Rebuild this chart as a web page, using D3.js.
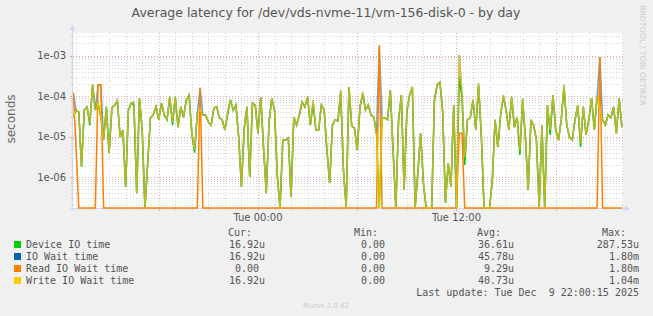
<!DOCTYPE html>
<html>
<head>
<meta charset="utf-8">
<script src="https://cdn.jsdelivr.net/npm/d3@7"></script>
<style>
body { margin: 0; background: #f0f0f0; }
svg { display: block; font-family: "DejaVu Sans", sans-serif; }
.mono { font-family: "DejaVu Sans Mono", monospace; font-size: 10px; fill: #555; white-space: pre; }
</style>
</head>
<body>
<div id="chart"></div>
<script>
// samples every 10 minutes, Mon 8 Dec 12:50 -> Tue 9 Dec 22:00
var startTime = new Date(2025, 11, 8, 12, 50);
var stepMinutes = 10;

var deviceIO = [
  3.0e-5, 4.5e-5, 4.0e-5, 1.8e-6, 4.5e-5, 5.4e-5, 1.9e-5, 1.9e-4, 4.5e-5, 6.7e-5,
  3.0e-5, 8.2e-6, 5.4e-5, 3.9e-6, 5.1e-5, 6.0e-5, 7.0e-5, 9.7e-6, 1.45e-5, 5.7e-7,
  4.5e-5, 6.7e-5, 6.0e-5, 4.0e-7, 8.9e-5, 1.45e-5, 0, 2.2e-6, 2.9e-5, 3.4e-5,
  5.4e-5, 2.6e-5, 6.7e-5, 3.4e-5, 2.6e-5, 9.5e-5, 1.9e-5, 9.5e-5, 1.7e-5, 5.4e-5,
  3.0e-5, 8.0e-5, 1.06e-4, 1.2e-5, 4.0e-6, 3.8e-5, 4.5e-5, 3.4e-5, 3.4e-5, 2.3e-5,
  1.9e-5, 5.1e-5, 5.4e-5, 2.9e-5, 2.6e-5, 1.45e-5, 3.5e-5, 8.0e-5, 4.5e-5, 6.0e-5,
  9.7e-6, 5.7e-7, 1.6e-5, 5.4e-5, 1.0e-6, 6.7e-5, 6.0e-5, 1.2e-5, 9.5e-5, 5.5e-6,
  4.0e-7, 2.2e-5, 8.9e-5, 4.5e-5, 1.1e-6, 0, 8.2e-6, 8.2e-6, 9.2e-6, 3.2e-7,
  3.0e-5, 1.9e-5, 3.4e-5, 7.1e-5, 5.4e-5, 9.5e-5, 1.9e-5, 6.5e-5, 1.45e-5, 1.45e-5,
  6.0e-5, 4.5e-5, 4.6e-6, 7.1e-7, 1.9e-5, 2.6e-5, 2.4e-5, 1.2e-4, 1.5e-6, 0,
  1.67e-4, 1.8e-5, 1.6e-5, 4.6e-6, 5.4e-5, 1.1e-4, 4.5e-5, 6.0e-5, 3.4e-5, 3.0e-5,
  1.2e-5, 0, 2.9e-5, 2.9e-5, 2.6e-5, 1.4e-4, 4.6e-6, 0, 2.6e-5, 1.06e-4,
  4.8e-7, 4.0e-5, 1.06e-4, 1.67e-4, 0, 1.3e-6, 1.2e-5, 7.1e-7, 0, 0,
  0, 8.0e-5, 1.9e-4, 2.2e-4, 4.0e-5, 2.3e-7, 2.2e-6, 5.7e-7, 6.0e-5, 0,
  2.9e-4, 9.0e-5, 2.0e-6, 2.6e-5, 2.9e-5, 8.0e-5, 1.45e-5, 1.8e-4, 1.1e-5, 0,
  0, 0, 8.4e-7, 2.6e-5, 5.5e-6, 3.4e-5, 9.5e-5, 4.5e-5, 1.45e-5, 9.5e-5,
  1.7e-5, 3.0e-5, 3.5e-6, 8.0e-5, 9.2e-6, 4.8e-7, 2.6e-5, 1.9e-5, 8.2e-6, 0,
  1.9e-5, 0, 6.0e-5, 1.1e-5, 1.06e-4, 1.45e-5, 8.2e-6, 2.6e-5, 1.7e-4, 1.9e-5,
  9.7e-6, 8.2e-6, 2.6e-5, 6.0e-5, 5.5e-6, 5.4e-5, 1.1e-5, 2.6e-5, 8.9e-5, 1.45e-5,
  9.5e-5, 5.4e-5, 2.6e-5, 1.9e-5, 3.4e-5, 2.9e-5, 5.4e-5, 1.2e-5, 8.9e-5, 1.692e-5
];

var ioWait = [
  1.2e-4, 4.5e-5, 4.0e-5, 1.8e-6, 4.5e-5, 5.4e-5, 2.2e-5, 1.9e-4, 4.5e-5, 1.9e-4,
  1.9e-4, 8.2e-6, 5.4e-5, 3.9e-6, 5.1e-5, 6.0e-5, 8.0e-5, 9.7e-6, 1.45e-5, 5.7e-7,
  4.5e-5, 6.7e-5, 7.1e-5, 4.0e-7, 8.9e-5, 1.45e-5, 0, 2.2e-6, 2.9e-5, 3.4e-5,
  5.4e-5, 2.6e-5, 6.7e-5, 3.4e-5, 2.6e-5, 9.5e-5, 2.2e-5, 9.5e-5, 1.7e-5, 5.4e-5,
  3.0e-5, 8.0e-5, 1.06e-4, 1.2e-5, 4.6e-6, 3.8e-5, 1.6e-4, 3.4e-5, 3.4e-5, 2.3e-5,
  1.9e-5, 5.1e-5, 5.4e-5, 2.9e-5, 2.6e-5, 1.45e-5, 4.0e-5, 8.0e-5, 4.5e-5, 6.0e-5,
  9.7e-6, 5.7e-7, 1.6e-5, 5.4e-5, 1.0e-6, 6.7e-5, 6.0e-5, 1.2e-5, 9.5e-5, 5.5e-6,
  4.0e-7, 2.2e-5, 8.9e-5, 4.5e-5, 1.1e-6, 0, 8.2e-6, 8.2e-6, 9.2e-6, 3.2e-7,
  3.0e-5, 1.9e-5, 3.4e-5, 7.1e-5, 5.4e-5, 9.5e-5, 1.9e-5, 8.0e-5, 1.45e-5, 1.45e-5,
  6.0e-5, 4.5e-5, 4.6e-6, 7.1e-7, 1.9e-5, 2.6e-5, 2.4e-5, 1.4e-4, 1.5e-6, 0,
  1.67e-4, 1.8e-5, 1.6e-5, 4.6e-6, 5.4e-5, 1.26e-4, 4.5e-5, 6.0e-5, 3.4e-5, 3.0e-5,
  1.2e-5, 1.8e-3, 2.9e-5, 2.9e-5, 2.6e-5, 1.4e-4, 4.6e-6, 0, 2.6e-5, 1.06e-4,
  4.8e-7, 4.5e-5, 1.06e-4, 1.67e-4, 0, 1.3e-6, 1.2e-5, 7.1e-7, 0, 0,
  0, 8.0e-5, 1.9e-4, 2.2e-4, 4.0e-5, 2.3e-7, 2.2e-6, 5.7e-7, 6.0e-5, 0,
  1.04e-3, 1.2e-4, 3.1e-6, 2.6e-5, 2.9e-5, 8.0e-5, 1.45e-5, 2.1e-4, 1.1e-5, 0,
  0, 0, 8.4e-7, 2.6e-5, 5.5e-6, 3.4e-5, 1.06e-4, 4.5e-5, 1.45e-5, 9.5e-5,
  1.7e-5, 3.0e-5, 4.6e-6, 8.9e-5, 9.2e-6, 4.8e-7, 2.6e-5, 1.9e-5, 8.2e-6, 0,
  1.9e-5, 0, 6.0e-5, 1.45e-5, 1.06e-4, 1.45e-5, 8.2e-6, 2.6e-5, 1.9e-4, 1.9e-5,
  9.7e-6, 8.2e-6, 2.6e-5, 6.0e-5, 6.9e-6, 5.4e-5, 1.1e-5, 2.6e-5, 8.9e-5, 1.45e-5,
  9.5e-5, 9.2e-4, 2.6e-5, 1.9e-5, 3.4e-5, 2.9e-5, 5.4e-5, 1.2e-5, 8.9e-5, 1.692e-5
];

var readWait = [
  1.2e-4, 5.5e-6, 0, 0, 0, 0, 0, 0, 0, 1.9e-4,
  1.9e-4, 0, 0, 0, 0, 0, 0, 0, 0, 0,
  0, 0, 0, 0, 0, 0, 0, 0, 0, 0,
  0, 0, 0, 0, 0, 0, 0, 0, 0, 0,
  0, 0, 0, 0, 0, 0, 1.6e-4, 0, 0, 0,
  0, 0, 0, 0, 0, 0, 0, 0, 0, 0,
  0, 0, 0, 0, 0, 0, 0, 0, 0, 0,
  0, 0, 0, 0, 0, 0, 0, 0, 0, 0,
  0, 0, 0, 0, 0, 0, 0, 0, 0, 0,
  0, 0, 0, 0, 0, 0, 0, 0, 0, 0,
  0, 0, 0, 0, 0, 0, 0, 0, 0, 0,
  0, 1.8e-3, 0, 0, 0, 0, 0, 0, 0, 0,
  0, 0, 0, 0, 0, 0, 0, 0, 0, 0,
  0, 0, 0, 0, 0, 0, 0, 0, 0, 0,
  1.2e-5, 1.2e-5, 0, 0, 0, 0, 0, 0, 0, 0,
  0, 0, 0, 0, 0, 0, 0, 0, 0, 0,
  0, 0, 0, 0, 0, 0, 0, 0, 0, 0,
  0, 0, 0, 0, 0, 0, 0, 0, 0, 0,
  0, 0, 0, 0, 0, 0, 0, 0, 0, 0,
  0, 9.2e-4, 0, 0, 0, 0, 0, 0, 0, 0
];

var writeWait = [
  3.0e-5, 4.5e-5, 4.0e-5, 1.8e-6, 4.5e-5, 5.4e-5, 2.2e-5, 1.9e-4, 4.5e-5, 6.7e-5,
  3.0e-5, 8.2e-6, 5.4e-5, 3.9e-6, 5.1e-5, 6.0e-5, 8.0e-5, 9.7e-6, 1.45e-5, 5.7e-7,
  4.5e-5, 6.7e-5, 7.1e-5, 4.0e-7, 8.9e-5, 1.45e-5, 0, 2.2e-6, 2.9e-5, 3.4e-5,
  5.4e-5, 2.6e-5, 6.7e-5, 3.4e-5, 2.6e-5, 9.5e-5, 2.2e-5, 9.5e-5, 1.7e-5, 5.4e-5,
  3.0e-5, 8.0e-5, 1.06e-4, 1.2e-5, 4.6e-6, 3.8e-5, 4.5e-5, 3.4e-5, 3.4e-5, 2.3e-5,
  1.9e-5, 5.1e-5, 5.4e-5, 2.9e-5, 2.6e-5, 1.45e-5, 4.0e-5, 8.0e-5, 4.5e-5, 6.0e-5,
  9.7e-6, 5.7e-7, 1.6e-5, 5.4e-5, 1.0e-6, 6.7e-5, 6.0e-5, 1.2e-5, 9.5e-5, 5.5e-6,
  4.0e-7, 2.2e-5, 8.9e-5, 4.5e-5, 1.1e-6, 0, 8.2e-6, 8.2e-6, 9.2e-6, 3.2e-7,
  3.0e-5, 1.9e-5, 3.4e-5, 7.1e-5, 5.4e-5, 9.5e-5, 1.9e-5, 8.0e-5, 1.45e-5, 1.45e-5,
  6.0e-5, 4.5e-5, 4.6e-6, 7.1e-7, 1.9e-5, 2.6e-5, 2.4e-5, 1.4e-4, 1.5e-6, 0,
  1.67e-4, 1.8e-5, 1.6e-5, 4.6e-6, 5.4e-5, 1.26e-4, 4.5e-5, 6.0e-5, 3.4e-5, 3.0e-5,
  1.2e-5, 0, 2.9e-5, 2.9e-5, 2.6e-5, 1.4e-4, 4.6e-6, 0, 2.6e-5, 1.06e-4,
  4.8e-7, 4.5e-5, 1.06e-4, 1.67e-4, 0, 1.3e-6, 1.2e-5, 7.1e-7, 0, 0,
  0, 8.0e-5, 1.9e-4, 2.2e-4, 4.0e-5, 2.3e-7, 2.2e-6, 5.7e-7, 6.0e-5, 0,
  1.04e-3, 1.2e-4, 3.1e-6, 2.6e-5, 2.9e-5, 8.0e-5, 1.45e-5, 2.1e-4, 1.1e-5, 0,
  0, 0, 8.4e-7, 2.6e-5, 5.5e-6, 3.4e-5, 1.06e-4, 4.5e-5, 1.45e-5, 9.5e-5,
  1.7e-5, 3.0e-5, 4.6e-6, 8.9e-5, 9.2e-6, 4.8e-7, 2.6e-5, 1.9e-5, 8.2e-6, 0,
  1.9e-5, 0, 6.0e-5, 1.45e-5, 1.06e-4, 1.45e-5, 8.2e-6, 2.6e-5, 1.9e-4, 1.9e-5,
  9.7e-6, 8.2e-6, 2.6e-5, 6.0e-5, 6.9e-6, 5.4e-5, 1.1e-5, 2.6e-5, 8.9e-5, 1.45e-5,
  9.5e-5, 5.4e-5, 2.6e-5, 1.9e-5, 3.4e-5, 2.9e-5, 5.4e-5, 1.2e-5, 8.9e-5, 1.692e-5
];

var seriesNames = ["Device IO time", "IO Wait time", "Read IO Wait time", "Write IO Wait time"];
var seriesColors = ["#00cc00", "#0066b3", "#ff8000", "#ffcc00"];
var curValues = ["16.92u", "16.92u", "0.00", "16.92u"];
var minValues = ["0.00", "0.00", "0.00", "0.00"];
var avgValues = ["36.61u", "45.78u", "9.29u", "40.73u"];
var maxValues = ["287.53u", "1.80m", "1.80m", "1.04m"];
var yTickValues = [1e-3, 1e-4, 1e-5, 1e-6];
var xLabelTimes = [new Date(2025, 11, 9, 0, 0), new Date(2025, 11, 9, 12, 0)];

var width = 653,
    height = 316;
var plot = { left: 73, right: 623, top: 33, bottom: 208 };

var svg = d3.select("#chart").append("svg")
    .attr("width", width)
    .attr("height", height);

svg.append("rect").attr("width", width).attr("height", height).attr("fill", "#f0f0f0");
svg.append("rect")
    .attr("x", plot.left).attr("y", plot.top)
    .attr("width", plot.right - plot.left).attr("height", plot.bottom - plot.top)
    .attr("fill", "#ffffff");

var x = d3.scaleTime()
    .domain([new Date(2025, 11, 8, 12, 49), new Date(2025, 11, 9, 22, 4)])
    .range([plot.left, plot.right]);

var y = d3.scaleLog()
    .domain([1.72e-7, 3.6e-3])
    .range([plot.bottom, plot.top]);

function yPos(v) {
  if (v <= y.domain()[0]) return plot.bottom;
  return y(v);
}

// grid: horizontal (log decades + minors)
var yGrid = [];
for (var d = -7; d <= -3; d++) {
  for (var m = 1; m <= 9; m++) {
    var v = m * Math.pow(10, d);
    if (v > y.domain()[0] && v < y.domain()[1]) yGrid.push({ v: v, major: m == 1 });
  }
}

var hours = d3.timeHour.range(new Date(2025, 11, 8, 13, 0), x.domain()[1]);

var grid = svg.append("g");
grid.selectAll("line.hgrid")
    .data(yGrid)
    .enter().append("line")
    .attr("x1", plot.left).attr("x2", plot.right)
    .attr("y1", function(d) { return Math.round(y(d.v)) + 0.5; })
    .attr("y2", function(d) { return Math.round(y(d.v)) + 0.5; })
    .attr("stroke", function(d) { return d.major ? "#e8a8a8" : "#d4d4d4"; })
    .attr("stroke-dasharray", "1,2");

grid.selectAll("line.vgrid")
    .data(hours)
    .enter().append("line")
    .attr("x1", function(d) { return Math.round(x(d)) + 0.5; })
    .attr("x2", function(d) { return Math.round(x(d)) + 0.5; })
    .attr("y1", plot.top).attr("y2", plot.bottom)
    .attr("stroke", function(d) { return d.getHours() % 6 == 0 ? "#e8a8a8" : "#d4d4d4"; })
    .attr("stroke-dasharray", "1,2");

// axis ticks
grid.selectAll("line.ytick")
    .data(yGrid)
    .enter().append("line")
    .attr("x1", function(d) { return d.major ? plot.left - 3 : plot.left - 2; })
    .attr("x2", plot.left)
    .attr("y1", function(d) { return Math.round(y(d.v)) + 0.5; })
    .attr("y2", function(d) { return Math.round(y(d.v)) + 0.5; })
    .attr("stroke", function(d) { return d.major ? "#e8a8a8" : "#cccccc"; });

grid.selectAll("line.xtick")
    .data(hours)
    .enter().append("line")
    .attr("x1", function(d) { return Math.round(x(d)) + 0.5; })
    .attr("x2", function(d) { return Math.round(x(d)) + 0.5; })
    .attr("y1", plot.bottom)
    .attr("y2", function(d) { return d.getHours() % 6 == 0 ? plot.bottom + 3 : plot.bottom + 2; })
    .attr("stroke", function(d) { return d.getHours() % 6 == 0 ? "#e8a8a8" : "#cccccc"; });

// axes lines and arrows
svg.append("line")
    .attr("x1", plot.left - 0.5).attr("x2", plot.left - 0.5)
    .attr("y1", plot.top - 4).attr("y2", plot.bottom + 3)
    .attr("stroke", "#cfd6f8");
svg.append("line")
    .attr("x1", plot.left - 3).attr("x2", plot.right + 4)
    .attr("y1", plot.bottom + 0.5).attr("y2", plot.bottom + 0.5)
    .attr("stroke", "#cfd6f8");
svg.append("path")
    .attr("d", "M" + (plot.left - 3.5) + "," + (plot.top - 3) + "L" + (plot.left - 0.5) + "," + (plot.top - 8) + "L" + (plot.left + 2.5) + "," + (plot.top - 3) + "Z")
    .attr("fill", "#cfd6f8");
svg.append("path")
    .attr("d", "M" + (plot.right + 2) + "," + (plot.bottom - 2.5) + "L" + (plot.right + 7) + "," + (plot.bottom + 0.5) + "L" + (plot.right + 2) + "," + (plot.bottom + 3.5) + "Z")
    .attr("fill", "#cfd6f8");

// series
var times = deviceIO.map(function(v, i) { return new Date(startTime.getTime() + i * stepMinutes * 60000); });
var allSeries = [deviceIO, ioWait, readWait, writeWait];
var seriesOpacity = [1, 0.6, 1, 0.72];

svg.append("clipPath").attr("id", "plotClip")
  .append("rect")
    .attr("x", plot.left).attr("y", plot.top)
    .attr("width", plot.right - plot.left).attr("height", plot.bottom - plot.top + 1);

var line = d3.line()
    .x(function(d) { return x(d.t); })
    .y(function(d) { return yPos(d.v); });

svg.append("g").attr("clip-path", "url(#plotClip)")
  .selectAll("path.series")
    .data(allSeries)
    .enter().append("path")
    .attr("d", function(s) { return line(s.map(function(v, i) { return { t: times[i], v: v }; })); })
    .attr("fill", "none")
    .attr("stroke", function(s, i) { return seriesColors[i]; })
    .attr("stroke-opacity", function(s, i) { return seriesOpacity[i]; })
    .attr("stroke-width", 1.5)
    .attr("stroke-linejoin", "miter");

// y labels
svg.selectAll("text.ylab")
    .data(yTickValues)
    .enter().append("text")
    .attr("x", plot.left - 7)
    .attr("y", function(d) { return y(d) + 3.5; })
    .attr("text-anchor", "end")
    .attr("font-size", "10px")
    .attr("fill", "#555")
    .text(function(d) { return d3.format(".0e")(d).replace(/e-(\d)$/, "e-0$1"); });

svg.selectAll("text.xlab")
    .data(xLabelTimes)
    .enter().append("text")
    .attr("x", function(d) { return x(d); })
    .attr("y", 221)
    .attr("text-anchor", "middle")
    .attr("font-size", "10px")
    .attr("fill", "#555")
    .text(function(d) { return d3.timeFormat("%a %H:%M")(d); });

svg.append("text")
    .attr("transform", "translate(15,119) rotate(-90)")
    .attr("text-anchor", "middle")
    .attr("font-size", "12px")
    .attr("fill", "#666")
    .text("seconds");

svg.append("text")
    .attr("x", 326).attr("y", 17)
    .attr("text-anchor", "middle")
    .attr("font-size", "12.5px")
    .attr("fill", "#555")
    .text("Average latency for /dev/vds-nvme-11/vm-156-disk-0 - by day");

svg.append("text")
    .attr("transform", "translate(640,5) rotate(90)")
    .attr("font-size", "7.8px")
    .attr("fill", "#cccccc")
    .text("RRDTOOL / TOBI OETIKER");

// legend
var headerY = 236;
var rowY = [248, 260, 272, 284];
var colEnds = [265, 391, 514, 639];
var headers = ["Cur:", "Min:", "Avg:", "Max:"];

svg.selectAll("text.head")
    .data(headers)
    .enter().append("text")
    .attr("class", "mono")
    .attr("x", function(d, i) { return colEnds[i] - 13; })
    .attr("y", headerY)
    .attr("text-anchor", "end")
    .text(function(d) { return d; });

function padUnit(s) { return /[a-zA-Z]$/.test(s) ? s : s + " "; }

seriesNames.forEach(function(name, i) {
  svg.append("rect")
      .attr("x", 14).attr("y", rowY[i] - 7)
      .attr("width", 7).attr("height", 7)
      .attr("fill", seriesColors[i]);
  svg.append("text").attr("class", "mono")
      .attr("x", 26).attr("y", rowY[i])
      .text(name);
  [curValues[i], minValues[i], avgValues[i], maxValues[i]].forEach(function(val, c) {
    svg.append("text").attr("class", "mono")
        .attr("x", colEnds[c]).attr("y", rowY[i])
        .attr("text-anchor", "end")
        .text(padUnit(val));
  });
});

svg.append("text").attr("class", "mono")
    .attr("x", 639).attr("y", 296)
    .attr("text-anchor", "end")
    .text("Last update: Tue Dec  9 22:00:15 2025");

svg.append("text")
    .attr("x", 326).attr("y", 308)
    .attr("text-anchor", "middle")
    .attr("font-size", "7px")
    .attr("fill", "#cccccc")
    .text("Munin 2.0.42");
</script>
</body>
</html>
